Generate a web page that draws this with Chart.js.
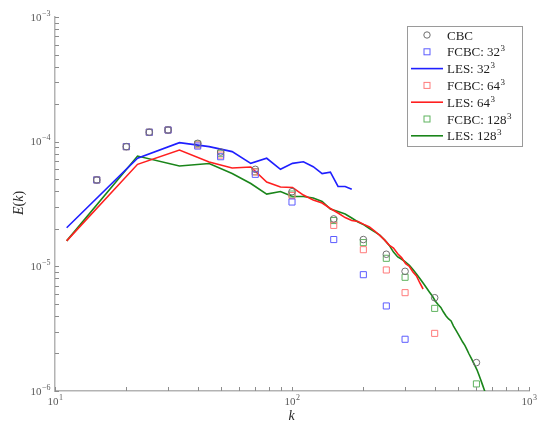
<!DOCTYPE html>
<html lang="en">
<head>
  <meta charset="UTF-8" />
  <title>Energy spectrum E(k)</title>
  <script src="https://cdn.jsdelivr.net/npm/chart.js"></script>
  <style>
    html, body { margin: 0; padding: 0; background: #fff; }
    #wrap { width: 538px; height: 423px; }
  </style>
</head>
<body>
  <div id="wrap"><canvas id="spectrum" width="538" height="423"></canvas></div>

  <script>
    // filtered wavenumbers (CBC / FCBC markers)
    const kFilter = [15, 20, 25, 30, 40, 50, 70, 100, 150, 200, 250, 300, 400, 600];

    const eCBC     = [4.93e-5, 9.12e-5, 1.19e-4, 1.24e-4, 9.7e-5, 8.26e-5, 6.0e-5, 3.97e-5, 2.4e-5, 1.64e-5, 1.25e-5, 9.12e-6, 5.6e-6, 1.69e-6];
    const eFCBC32  = [4.93e-5, 9.12e-5, 1.19e-4, 1.24e-4, 9.22e-5, 7.57e-5, 5.47e-5, 3.28e-5, 1.64e-5, 8.57e-6, 4.81e-6, 2.6e-6];
    const eFCBC64  = [4.93e-5, 9.12e-5, 1.19e-4, 1.24e-4, 9.4e-5, 7.81e-5, 5.71e-5, 3.7e-5, 2.13e-5, 1.36e-5, 9.35e-6, 6.15e-6, 2.9e-6];
    const eFCBC128 = [4.93e-5, 9.12e-5, 1.19e-4, 1.24e-4, 9.57e-5, 8.07e-5, 5.74e-5, 3.8e-5, 2.33e-5, 1.55e-5, 1.16e-5, 8.17e-6, 4.6e-6, 1.14e-6];

    // LES wavenumber grid
    const kLES = [11.2, 22.3, 33.5, 44.7, 55.9, 67.0, 78.2, 89.4, 100.5, 111.7,
                  122.9, 134.0, 145.2, 156.4, 167.6, 178.7, 189.9, 201.1, 212.2, 223.4,
                  234.6, 245.7, 256.9, 268.1, 279.3, 290.4, 301.6, 312.8, 323.9, 335.1,
                  346.3, 357.4, 368.6, 379.8, 391.0, 402.1, 413.3, 424.5, 435.6, 446.8,
                  458.0, 469.1, 480.3, 491.5, 502.7, 513.8, 525.0, 536.2, 547.3, 558.5,
                  569.7, 580.8, 592.0, 603.2, 614.4, 625.5, 636.7, 647.9, 659.0, 670.2];

    const eLES32 = [2.04e-5, 7.36e-5, 9.82e-5, 9.12e-5, 8.32e-5, 6.7e-5, 7.36e-5, 6.0e-5, 6.7e-5, 6.9e-5,
                    6.3e-5, 5.55e-5, 5.69e-5, 4.37e-5, 4.37e-5, 4.15e-5];

    const eLES64 = [1.6e-5, 6.58e-5, 8.57e-5, 6.87e-5, 6.15e-5, 6.26e-5, 4.75e-5, 4.33e-5, 4.29e-5, 3.73e-5,
                    3.4e-5, 3.22e-5, 2.91e-5, 2.68e-5, 2.46e-5, 2.33e-5, 2.29e-5, 2.17e-5, 2.07e-5, 1.92e-5,
                    1.77e-5, 1.63e-5, 1.48e-5, 1.4e-5, 1.26e-5, 1.17e-5, 1.05e-5, 9.98e-6, 9.02e-6, 8.38e-6,
                    7.35e-6, 6.58e-6];

    const eLES128 = [1.6e-5, 7.67e-5, 6.38e-5, 6.68e-5, 5.55e-5, 4.62e-5, 3.8e-5, 3.98e-5, 3.63e-5, 3.63e-5,
                     3.53e-5, 3.31e-5, 2.88e-5, 2.75e-5, 2.63e-5, 2.44e-5, 2.27e-5, 2.15e-5, 2.01e-5, 1.89e-5,
                     1.78e-5, 1.63e-5, 1.48e-5, 1.3e-5, 1.19e-5, 1.14e-5, 1.08e-5, 1.02e-5, 9.44e-6, 8.69e-6,
                     7.98e-6, 7.35e-6, 6.76e-6, 6.22e-6, 5.78e-6, 5.27e-6, 4.94e-6, 4.68e-6, 4.3e-6, 4.0e-6,
                     3.78e-6, 3.65e-6, 3.32e-6, 3.08e-6, 2.86e-6, 2.66e-6, 2.47e-6, 2.32e-6, 2.15e-6, 1.98e-6,
                     1.84e-6, 1.71e-6, 1.59e-6, 1.48e-6, 1.35e-6, 1.23e-6, 1.12e-6, 1.02e-6, 9.2e-7, 8.3e-7];

    const xDecades = [1, 2, 3];
    const yDecades = [-6, -5, -4, -3];

    const SERIF = '"Liberation Serif", "DejaVu Serif", serif';
    const AXIS_GRAY = '#b3b3b3';
    const LABEL_GRAY = '#5a5a5a';

    function pts(ks, es) {
      return es.map((e, i) => ({ x: ks[i], y: e }));
    }

    const colors = {
      cbc: '#707070',
      sq32: '#5c5cff', sq64: '#ff7a7a', sq128: '#5fb35f',
      les32: '#1f1fff', les64: '#ff1f1f', les128: '#1a851a'
    };

    const legendItems = [
      { type: 'circle', color: colors.cbc, text: 'CBC', sup: '' },
      { type: 'rect', color: colors.sq32, text: 'FCBC: 32', sup: '3' },
      { type: 'line', color: colors.les32, text: 'LES: 32', sup: '3' },
      { type: 'rect', color: colors.sq64, text: 'FCBC: 64', sup: '3' },
      { type: 'line', color: colors.les64, text: 'LES: 64', sup: '3' },
      { type: 'rect', color: colors.sq128, text: 'FCBC: 128', sup: '3' },
      { type: 'line', color: colors.les128, text: 'LES: 128', sup: '3' }
    ];

    function drawPow(ctx, base, exp, x, y, align) {
      ctx.font = '11px ' + SERIF;
      const wb = ctx.measureText(base).width;
      ctx.font = '8px ' + SERIF;
      const we = ctx.measureText(exp).width;
      let x0 = x;
      if (align === 'center') x0 = x - (wb + we) / 2;
      if (align === 'right') x0 = x - wb - we;
      ctx.textAlign = 'left';
      ctx.textBaseline = 'alphabetic';
      ctx.font = '11px ' + SERIF;
      ctx.fillText(base, x0, y);
      ctx.font = '8px ' + SERIF;
      ctx.fillText(exp, x0 + wb + 0.5, y - 5);
    }

    const decorations = {
      id: 'decorations',
      afterDraw(chart) {
        const ctx = chart.ctx;
        const xs = chart.scales.x, ys = chart.scales.y;
        const area = chart.chartArea;
        ctx.save();

        // inward tick marks
        ctx.strokeStyle = '#8c8c8c';
        ctx.lineWidth = 1;
        ctx.beginPath();
        for (let d = 1; d <= 3; d++) {
          for (let m = 1; m <= 9; m++) {
            const v = m * Math.pow(10, d);
            if (v > 1000) break;
            const px = Math.round(xs.getPixelForValue(v)) + 0.5;
            ctx.moveTo(px, area.bottom);
            ctx.lineTo(px, area.bottom - 4);
          }
        }
        for (let d = -6; d <= -3; d++) {
          for (let m = 1; m <= 9; m++) {
            const v = m * Math.pow(10, d);
            if (v > 1.0001e-3) break;
            const py = Math.round(ys.getPixelForValue(v)) + 0.5;
            ctx.moveTo(area.left, py);
            ctx.lineTo(area.left + 4, py);
          }
        }
        ctx.stroke();

        // tick labels
        ctx.fillStyle = LABEL_GRAY;
        xDecades.forEach(d => {
          drawPow(ctx, '10', String(d), xs.getPixelForValue(Math.pow(10, d)), 405, 'center');
        });
        yDecades.forEach(d => {
          drawPow(ctx, '10', '\u2212' + (-d), 50, ys.getPixelForValue(Math.pow(10, d)) + 3.5, 'right');
        });

        // axis titles
        ctx.fillStyle = '#262626';
        ctx.font = 'italic 14px ' + SERIF;
        ctx.textAlign = 'center';
        ctx.textBaseline = 'alphabetic';
        ctx.fillText('k', (area.left + area.right) / 2 - 0.5, 420);

        ctx.save();
        ctx.translate(23, 203);
        ctx.rotate(-Math.PI / 2);
        const parts = [['E', true], ['(', false], ['k', true], [')', false]];
        let total = 0;
        parts.forEach(p => {
          ctx.font = (p[1] ? 'italic ' : '') + '14px ' + SERIF;
          total += ctx.measureText(p[0]).width;
        });
        let cx = -total / 2;
        ctx.textAlign = 'left';
        parts.forEach(p => {
          ctx.font = (p[1] ? 'italic ' : '') + '14px ' + SERIF;
          ctx.fillText(p[0], cx, 0);
          cx += ctx.measureText(p[0]).width;
        });
        ctx.restore();

        // legend box
        const bx = 407, by = 26, bw = 115, bh = 120;
        ctx.fillStyle = '#ffffff';
        ctx.fillRect(bx, by, bw, bh);
        ctx.strokeStyle = '#9a9a9a';
        ctx.lineWidth = 1;
        ctx.strokeRect(bx + 0.5, by + 0.5, bw, bh);

        legendItems.forEach((it, i) => {
          const yy = 35 + i * 16.8;
          ctx.strokeStyle = it.color;
          if (it.type === 'line') {
            ctx.lineWidth = 1.6;
            ctx.beginPath();
            ctx.moveTo(411, yy);
            ctx.lineTo(443, yy);
            ctx.stroke();
          } else if (it.type === 'rect') {
            ctx.lineWidth = 1;
            ctx.strokeRect(424, yy - 3, 6, 6);
          } else {
            ctx.lineWidth = 1;
            ctx.beginPath();
            ctx.arc(427, yy, 3.2, 0, Math.PI * 2);
            ctx.stroke();
          }
          ctx.fillStyle = '#1e1e1e';
          ctx.font = '13px ' + SERIF;
          ctx.textAlign = 'left';
          ctx.textBaseline = 'alphabetic';
          ctx.fillText(it.text, 447, yy + 4.5);
          if (it.sup) {
            const w = ctx.measureText(it.text).width;
            ctx.font = '9px ' + SERIF;
            ctx.fillText(it.sup, 447 + w + 0.5, yy - 0.5);
          }
        });

        ctx.restore();
      }
    };

    function markerSet(label, ks, es, color, style, radius) {
      return {
        label: label,
        data: pts(ks, es),
        showLine: false,
        pointStyle: style,
        pointRadius: radius,
        pointHoverRadius: radius,
        pointBorderWidth: 1,
        borderColor: color,
        backgroundColor: 'rgba(0,0,0,0)'
      };
    }

    function lineSet(label, ks, es, color) {
      return {
        label: label,
        data: pts(ks, es),
        showLine: true,
        pointRadius: 0,
        borderColor: color,
        borderWidth: 1.6,
        tension: 0,
        fill: false
      };
    }

    new Chart(document.getElementById('spectrum').getContext('2d'), {
      type: 'scatter',
      data: {
        datasets: [
          markerSet('CBC', kFilter, eCBC, colors.cbc, 'circle', 3.3),
          markerSet('FCBC: 32^3', kFilter, eFCBC32, colors.sq32, 'rect', 4.3),
          lineSet('LES: 32^3', kLES, eLES32, colors.les32),
          markerSet('FCBC: 64^3', kFilter, eFCBC64, colors.sq64, 'rect', 4.3),
          lineSet('LES: 64^3', kLES, eLES64, colors.les64),
          markerSet('FCBC: 128^3', kFilter, eFCBC128, colors.sq128, 'rect', 4.3),
          lineSet('LES: 128^3', kLES, eLES128, colors.les128)
        ]
      },
      options: {
        responsive: false,
        animation: false,
        devicePixelRatio: 1,
        layout: { padding: { top: 17, right: 9, left: 0, bottom: 0 } },
        plugins: {
          legend: { display: false },
          tooltip: { enabled: false }
        },
        scales: {
          x: {
            type: 'logarithmic',
            min: 10,
            max: 1000,
            grid: { display: false },
            border: { display: true, color: AXIS_GRAY, width: 1.5 },
            ticks: { display: false },
            afterFit(s) { s.height = 32; }
          },
          y: {
            type: 'logarithmic',
            min: 1e-6,
            max: 1e-3,
            grid: { display: false },
            border: { display: true, color: AXIS_GRAY, width: 1.5 },
            ticks: { display: false },
            afterFit(s) { s.width = 55; }
          }
        }
      },
      plugins: [decorations]
    });
  </script>
</body>
</html>
